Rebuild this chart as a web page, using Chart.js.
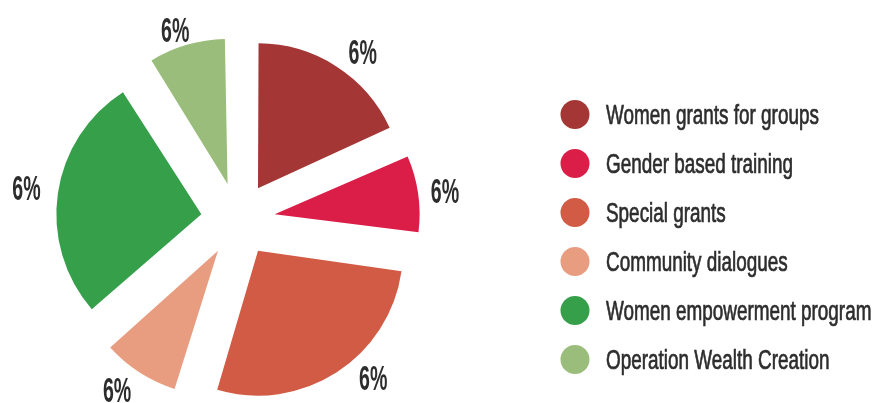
<!DOCTYPE html>
<html>
<head>
<meta charset="utf-8">
<script src="https://cdn.jsdelivr.net/npm/chart.js@4/dist/chart.umd.min.js"></script>
<style>
  html, body { margin: 0; padding: 0; background: #ffffff; }
  #wrap { width: 874px; height: 403px; position: relative; }
</style>
</head>
<body>
<div id="wrap"><canvas id="c" width="874" height="403"></canvas></div>
<script>
// ---- data ----
const categories = [
  'Women grants for groups',
  'Gender based training',
  'Special grants',
  'Community dialogues',
  'Women empowerment program',
  'Operation Wealth Creation'
];
const values = [2, 1, 3, 1, 3, 1];
const valueLabels = ['6%', '6%', '6%', '6%', '6%', '6%'];

// ---- styles ----
const sliceColors = ['#A43735', '#DB1E48', '#D15B45', '#E89D81', '#369F4A', '#9ABD7B'];
const textColor = '#2d2d2d';
const EXPLODE = 37;            // px the slices are pulled out
const RADIUS = 145;
// label placement relative to each slice: angle shift (deg), distance beyond radius (px)
const labelNudge = [
  { da: 4.6, dr: 27.7 },
  { da: 0.1, dr: 27 },
  { da: -9.6, dr: 26 },
  { da: 3.2, dr: 27 },
  { da: 0.6, dr: 32 },
  { da: -2.4, dr: 18 }
];

// keep every exploded slice at the same radius (Chart.js enlarges narrow offset slices)
const keepRadius = {
  id: 'keepRadius',
  beforeDatasetDraw(chart, args) {
    args.meta.data.forEach(arc => {
      const off = (arc.options.offset || 0) / 4;
      const fix = 1 - Math.sin(Math.min(Math.PI, arc.circumference || 0));
      arc._baseR = arc.outerRadius;
      arc.outerRadius = arc.outerRadius - off * fix;
    });
  },
  afterDatasetDraw(chart, args) {
    args.meta.data.forEach(arc => {
      if (arc._baseR !== undefined) arc.outerRadius = arc._baseR;
    });
  }
};

const sliceLabels = {
  id: 'sliceLabels',
  afterDatasetsDraw(chart) {
    const ctx = chart.ctx;
    const meta = chart.getDatasetMeta(0);
    ctx.save();
    ctx.fillStyle = textColor;
    ctx.font = 'bold 35px "Liberation Sans", Arial, sans-serif';
    ctx.textAlign = 'center';
    ctx.textBaseline = 'alphabetic';
    meta.data.forEach((arc, i) => {
      const mid = (arc.startAngle + arc.endAngle) / 2;
      const off = (arc.options.offset || 0) / 4;
      const ax = arc.x + Math.cos(mid) * off;
      const ay = arc.y + Math.sin(mid) * off;
      const a = mid + labelNudge[i].da * Math.PI / 180;
      const r = RADIUS + labelNudge[i].dr;
      const lx = ax + Math.cos(a) * r;
      const ly = ay + Math.sin(a) * r;
      ctx.save();
      ctx.translate(lx, ly + 12.5);
      ctx.scale(0.56, 1);
      ctx.fillText(valueLabels[i], 0, 0);
      ctx.restore();
    });
    ctx.restore();
  }
};

const sideLegend = {
  id: 'sideLegend',
  afterDraw(chart) {
    const ctx = chart.ctx;
    const items = chart.data.labels;
    const colors = chart.data.datasets[0].backgroundColor;
    ctx.save();
    items.forEach((label, i) => {
      const cy = 114.5 + i * 49;
      ctx.beginPath();
      ctx.fillStyle = colors[i];
      ctx.arc(575, cy, 14.5, 0, Math.PI * 2);
      ctx.fill();
      ctx.save();
      ctx.fillStyle = textColor;
      ctx.strokeStyle = textColor;
      ctx.lineWidth = 0.7;
      ctx.font = '27px "Liberation Sans", Arial, sans-serif';
      ctx.textAlign = 'left';
      ctx.textBaseline = 'alphabetic';
      ctx.translate(606, cy + 9.5);
      ctx.scale(0.70, 1);
      ctx.fillText(label, 0, 0);
      ctx.strokeText(label, 0, 0);
      ctx.restore();
    });
    ctx.restore();
  }
};

new Chart(document.getElementById('c'), {
  type: 'pie',
  data: {
    labels: categories,
    datasets: [{
      data: values,
      backgroundColor: sliceColors,
      borderWidth: 0,
      offset: EXPLODE * 4
    }]
  },
  options: {
    responsive: false,
    animation: false,
    events: [],
    radius: RADIUS,
    layout: { padding: { left: 0, right: 398, top: 36, bottom: 0 } },
    plugins: {
      legend: { display: false },
      tooltip: { enabled: false },
      title: { display: false }
    }
  },
  plugins: [keepRadius, sliceLabels, sideLegend]
});
</script>
</body>
</html>
